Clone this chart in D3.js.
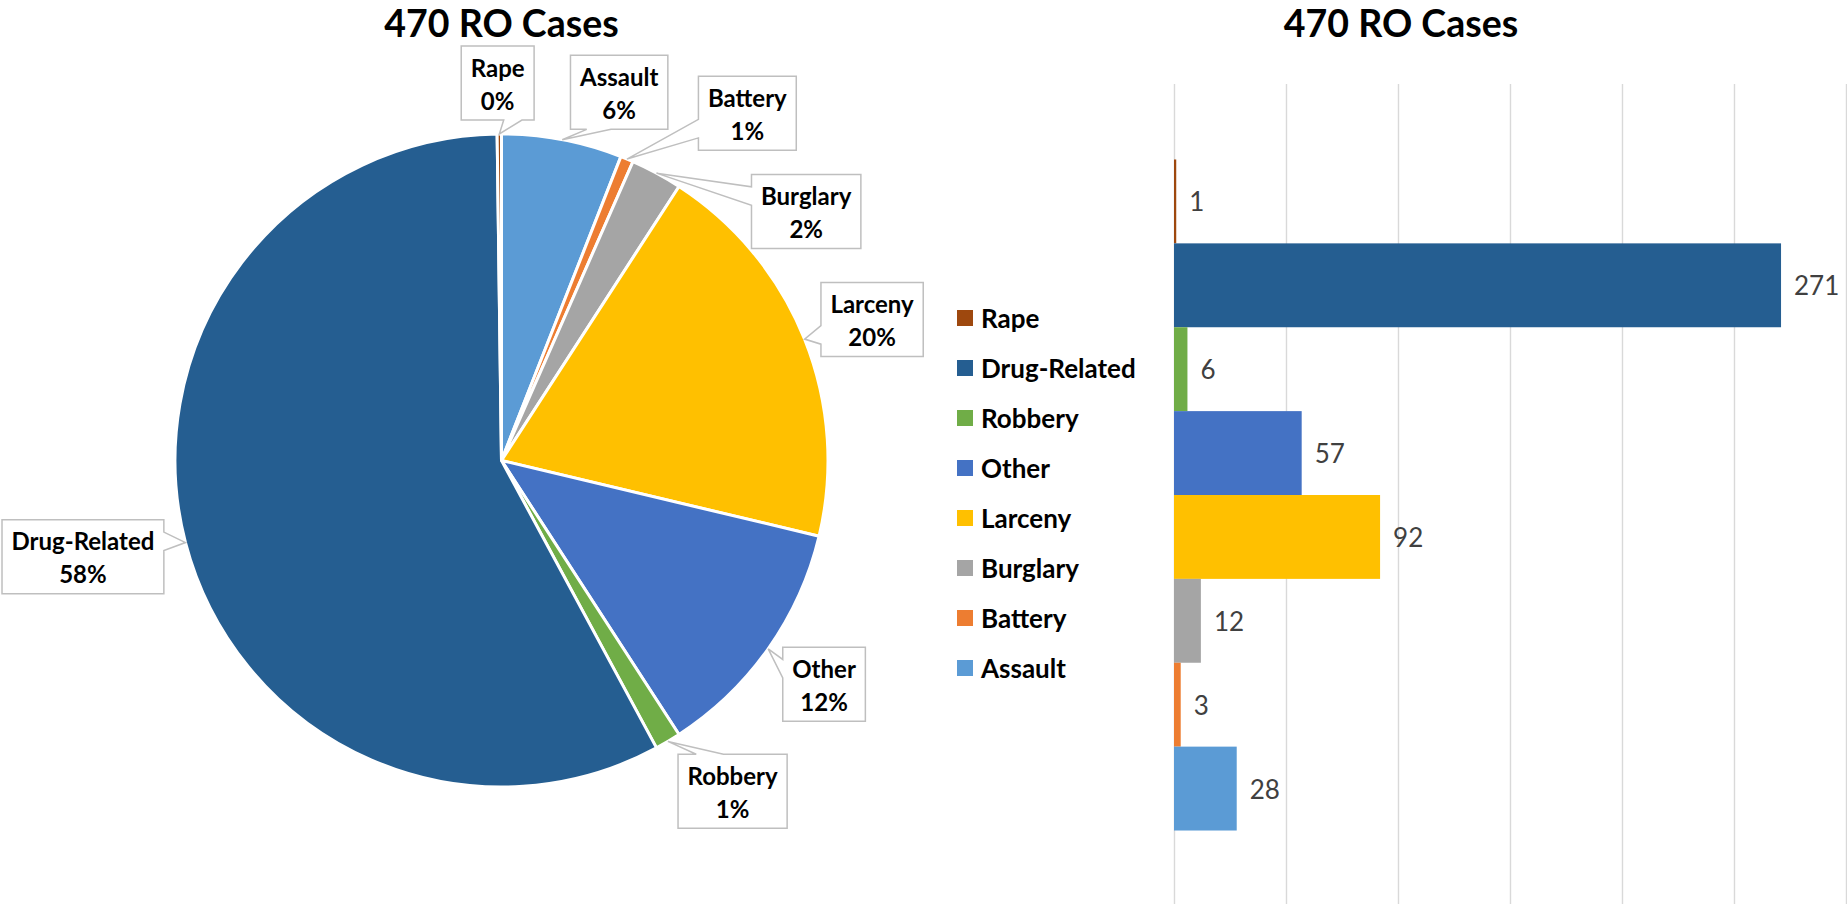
<!DOCTYPE html>
<html>
<head>
<meta charset="utf-8">
<script src="https://cdn.jsdelivr.net/npm/d3@7"></script>
<style>
  html, body { margin: 0; padding: 0; background: #ffffff; }
  svg { display: block; font-family: Lato, "Open Sans", sans-serif; }
</style>
</head>
<body>
<svg id="chart" width="1847" height="904"></svg>
<script>
// ---------------- data ----------------
const title = "470 RO Cases";
const categories = ["Assault", "Battery", "Burglary", "Larceny", "Other", "Robbery", "Drug-Related", "Rape"];
const cases = [28, 3, 12, 92, 57, 6, 271, 1];
const pctLabels = ["6%", "1%", "2%", "20%", "12%", "1%", "58%", "0%"];
const colors = ["#5B9BD5", "#ED7D31", "#A5A5A5", "#FFC000", "#4472C4", "#70AD47", "#255E91", "#9E480E"];
const axisTicks = [0, 50, 100, 150, 200, 250, 300];

// ---------------- layout ----------------
const W = 1847, H = 904;
const pieC = { x: 501.5, y: 460.5 }, pieR = 326.5;
// callout placement (angle shift in degrees from slice middle, distance beyond the rim)
const labelShift = [7.0, 12.7, 22.4, 1.0, -0.5, -4.3, 1.6, -0.2];
const labelGap = [60, 99, 67, 70, 66, 77, 103, 51];

const svg = d3.select("#chart");
const data = categories.map((c, i) => ({ name: c, value: cases[i], pct: pctLabels[i], color: colors[i], i }));

// ---------------- pie ----------------
svg.append("text")
  .attr("x", pieC.x).attr("y", 37)
  .attr("text-anchor", "middle")
  .attr("font-size", 37.5).attr("font-weight", 700).attr("fill", "#000")
  .text(title);

const pie = d3.pie().sort(null).value(d => d.value).startAngle(0).endAngle(2 * Math.PI);
const arcs = pie(data);
const arc = d3.arc().innerRadius(0).outerRadius(pieR);

const pieG = svg.append("g").attr("transform", `translate(${pieC.x},${pieC.y})`);
pieG.selectAll("path.slice").data(arcs).join("path")
  .attr("class", "slice")
  .attr("d", arc)
  .attr("fill", d => d.data.color)
  .attr("stroke", "#fff")
  .attr("stroke-width", 3)
  .attr("stroke-linejoin", "round");

function polar(angle, r) { return [pieC.x + r * Math.sin(angle), pieC.y - r * Math.cos(angle)]; }

function calloutPath(x0, y0, w, h, tx, ty) {
  const cx = x0 + w / 2, cy = y0 + h / 2;
  const dxPos = tx - cx, dyPos = ty - cy;
  const x1 = x0 + w * (dxPos > 0 ? 7 : 2) / 12, x2 = x0 + w * (dxPos > 0 ? 10 : 5) / 12;
  const y1 = y0 + h * (dyPos > 0 ? 7 : 2) / 12, y2 = y0 + h * (dyPos > 0 ? 10 : 5) / 12;
  const horiz = Math.abs(dxPos * h) > Math.abs(dyPos * w);
  const p = d3.path();
  p.moveTo(x0, y0);
  if (!horiz && dyPos < 0) { p.lineTo(x1, y0); p.lineTo(tx, ty); p.lineTo(x2, y0); }
  p.lineTo(x0 + w, y0);
  if (horiz && dxPos > 0) { p.lineTo(x0 + w, y1); p.lineTo(tx, ty); p.lineTo(x0 + w, y2); }
  p.lineTo(x0 + w, y0 + h);
  if (!horiz && dyPos > 0) { p.lineTo(x2, y0 + h); p.lineTo(tx, ty); p.lineTo(x1, y0 + h); }
  p.lineTo(x0, y0 + h);
  if (horiz && dxPos < 0) { p.lineTo(x0, y2); p.lineTo(tx, ty); p.lineTo(x0, y1); }
  p.closePath();
  return p.toString();
}

const labelG = svg.append("g");
arcs.forEach((a, k) => {
  const mid = (a.startAngle + a.endAngle) / 2;
  const [tx, ty] = polar(mid, pieR);
  const [lx, ly] = polar(mid + labelShift[k] * Math.PI / 180, pieR + labelGap[k]);
  const g = labelG.append("g");
  const path = g.append("path");
  const t1 = g.append("text").attr("x", lx).attr("y", ly - 16)
    .attr("text-anchor", "middle").attr("dominant-baseline", "central")
    .attr("font-size", 24).attr("font-weight", 700).attr("fill", "#000").text(a.data.name);
  const t2 = g.append("text").attr("x", lx).attr("y", ly + 17)
    .attr("text-anchor", "middle").attr("dominant-baseline", "central")
    .attr("font-size", 24).attr("font-weight", 700).attr("fill", "#000").text(a.data.pct);
  const tw = Math.max(t1.node().getComputedTextLength(), t2.node().getComputedTextLength());
  const bw = tw + 19, bh = 74;
  path.attr("d", calloutPath(lx - bw / 2, ly - bh / 2, bw, bh, tx, ty))
    .attr("fill", "#fff").attr("stroke", "#BFBFBF").attr("stroke-width", 1.5)
    .attr("stroke-linejoin", "miter");
});

// ---------------- bar chart ----------------
svg.append("text")
  .attr("x", 1401).attr("y", 37)
  .attr("text-anchor", "middle")
  .attr("font-size", 37.5).attr("font-weight", 700).attr("fill", "#000")
  .text(title);

const plot = { left: 1174, right: 1846, top: 84, bottom: 906 };
const x = d3.scaleLinear().domain([axisTicks[0], axisTicks[axisTicks.length - 1]]).range([plot.left, plot.right]);
const barOrder = data.slice().reverse(); // Excel bar chart: first series at the bottom
const y = d3.scaleBand().domain(barOrder.map(d => d.name)).range([plot.top, plot.bottom])
  .paddingInner(0).paddingOuter(0.9);

const grid = svg.append("g")
  .attr("transform", `translate(0,${plot.top})`)
  .call(d3.axisBottom(x).tickValues(axisTicks).tickSize(H - plot.top).tickFormat(""));
grid.select(".domain").remove();
grid.selectAll(".tick line").attr("stroke", "#D9D9D9").attr("stroke-width", 1.4);

svg.append("g").selectAll("rect").data(barOrder).join("rect")
  .attr("x", x(0))
  .attr("y", d => y(d.name))
  .attr("width", d => x(d.value) - x(0))
  .attr("height", y.bandwidth())
  .attr("fill", d => d.color);

svg.append("g").selectAll("text").data(barOrder).join("text")
  .attr("x", d => x(d.value) + 13)
  .attr("y", d => y(d.name) + y.bandwidth() / 2)
  .attr("dominant-baseline", "central")
  .attr("font-size", 26).attr("fill", "#404040")
  .text(d => d.value);

// legend
const legend = svg.append("g").attr("transform", "translate(957,318)");
const li = legend.selectAll("g").data(barOrder).join("g")
  .attr("transform", (d, i) => `translate(0,${i * 50})`);
li.append("rect").attr("x", 0).attr("y", -8).attr("width", 16).attr("height", 16).attr("fill", d => d.color);
li.append("text").attr("x", 24).attr("y", 0).attr("dominant-baseline", "central")
  .attr("font-size", 26).attr("font-weight", 700).attr("fill", "#000").text(d => d.name);
</script>
</body>
</html>
